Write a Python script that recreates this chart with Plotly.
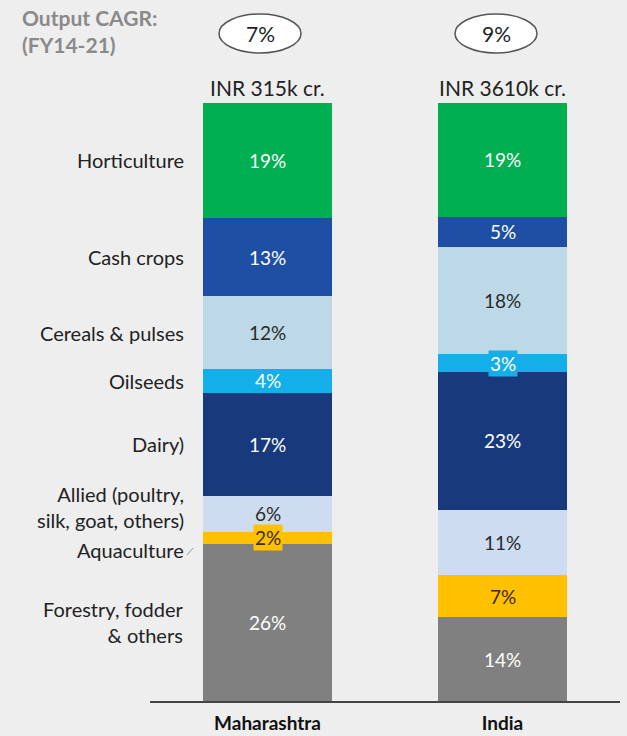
import plotly.graph_objects as go

# Regions (stacked bars) and the sector mix of agricultural output, bottom to top
regions = ["Maharashtra", "India"]
region_totals = ["INR 315k cr.", "INR 3610k cr."]
output_cagr = ["7%", "9%"]

sectors = [
    "Forestry, fodder<br>& others",
    "Aquaculture",
    "Allied (poultry,<br>silk, goat, others)",
    "Dairy)",
    "Oilseeds",
    "Cereals & pulses",
    "Cash crops",
    "Horticulture",
]
maharashtra_share = [26, 2, 6, 17, 4, 12, 13, 19]
india_share = [14, 7, 11, 23, 3, 18, 5, 19]

colors = ["#808080", "#ffc000", "#cddcf0", "#183a7c",
          "#14aeea", "#bdd9e8", "#1f4fa4", "#00b050"]
label_colors = ["white", "#3a2a00", "#2a2a2a", "white",
                "white", "#2a2a2a", "white", "white"]

FONT = "Lato"

# plot-area geometry in pixels, used to place paper-referenced decorations
W, H = 627, 736
L, R, T, B = 150, 7, 103, 35
PW, PH = W - L - R, H - T - B


def px(x):
    return (x - L) / PW


def py(y):
    return (H - B - y) / PH


fig = go.Figure()
for i, name in enumerate(sectors):
    fig.add_trace(go.Bar(
        x=[0, 1],
        y=[maharashtra_share[i], india_share[i]],
        name=name,
        marker=dict(color=colors[i], line=dict(width=0)),
        width=0.553,
        hoverinfo="skip",
    ))

annotations = []
shapes = []


def stacked_mids(vals):
    tot = sum(vals)
    mids, acc = [], 0.0
    for v in vals:
        s = v * 100.0 / tot
        mids.append(acc + s / 2)
        acc += s
    return mids


m_mid = stacked_mids(maharashtra_share)
i_mid = stacked_mids(india_share)

# value labels inside each segment
for xi, (vals, mids) in enumerate([(maharashtra_share, m_mid), (india_share, i_mid)]):
    for i, v in enumerate(vals):
        boxed = (xi == 0 and i == 1) or (xi == 1 and i == 4)
        annotations.append(dict(
            x=xi, y=mids[i], xref="x", yref="y",
            xanchor="center", yanchor="middle",
            text=f"{v}%", showarrow=False,
            font=dict(family=FONT, size=19, color=label_colors[i]),
            bgcolor=colors[i] if boxed else None,
            borderpad=1 if boxed else 0,
        ))

# sector names beside the first bar
name_shift = [0, -12, 7, 0, 0, 0, 0, 0]
for i, name in enumerate(sectors):
    annotations.append(dict(
        x=px(186), y=m_mid[i], xref="paper", yref="y",
        xanchor="right", yanchor="middle", align="right",
        text=name, showarrow=False,
        yshift=name_shift[i],
        font=dict(family=FONT, size=20, color="#222222"),
    ))
shapes.append(dict(type="line", xref="paper", yref="paper",
                   x0=px(187), y0=py(555), x1=px(193), y1=py(548),
                   line=dict(color="#9a9a9a", width=1)))

# header: CAGR bubbles and output totals
annotations.append(dict(
    x=px(20), y=py(31), xref="paper", yref="paper",
    xanchor="left", yanchor="middle", align="left",
    text="<b>Output CAGR:<br>(FY14-21)</b>", showarrow=False,
    font=dict(family=FONT, size=21, color="#8a8a8a"),
))
for xi, (cx, total, cagr) in enumerate(zip([260, 496], region_totals, output_cagr)):
    shapes.append(dict(type="circle", xref="paper", yref="paper",
                       x0=px(cx - 41), x1=px(cx + 41),
                       y0=py(53), y1=py(14),
                       line=dict(color="#555555", width=1.5),
                       fillcolor="white"))
    annotations.append(dict(
        x=px(cx), y=py(33), xref="paper", yref="paper",
        xanchor="center", yanchor="middle",
        text=cagr, showarrow=False,
        font=dict(family=FONT, size=21, color="#222222"),
    ))
    annotations.append(dict(
        x=xi, y=py(87), xref="x", yref="paper",
        xanchor="center", yanchor="middle",
        text=total, showarrow=False,
        font=dict(family=FONT, size=21, color="#222222"),
    ))

fig.update_layout(
    barmode="stack",
    barnorm="percent",
    width=W, height=H,
    margin=dict(l=L, r=R, t=T, b=B, autoexpand=False),
    paper_bgcolor="#eeeeee",
    plot_bgcolor="#eeeeee",
    showlegend=False,
    annotations=annotations,
    shapes=shapes,
    xaxis=dict(
        range=[-0.5, 1.5],
        tickvals=[0, 1],
        ticktext=[f"<b>{r}</b>" for r in regions],
        tickfont=dict(family=FONT, size=19, color="#111111"),
        showline=True, linecolor="#444444", linewidth=1.5,
        showgrid=False, zeroline=False, ticks="",
        ticklabelstandoff=4,
        automargin=False,
        fixedrange=True,
    ),
    yaxis=dict(range=[0, 100], visible=False, fixedrange=True,
               automargin=False),
)

fig.write_html("out.html")
